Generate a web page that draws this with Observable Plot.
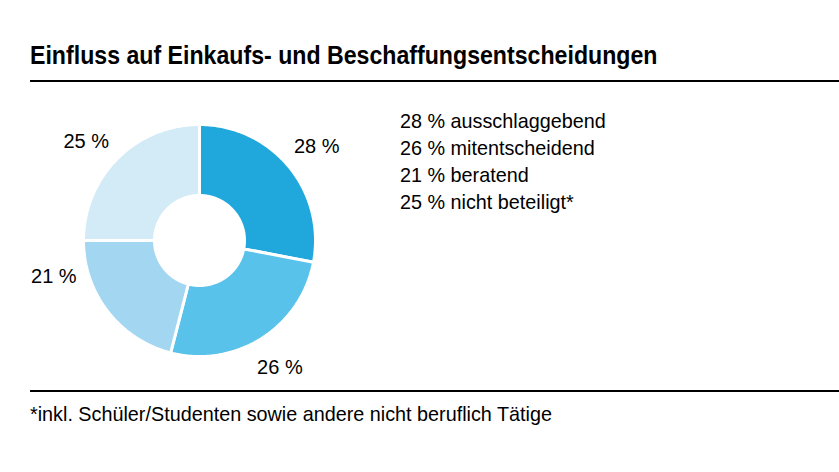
<!DOCTYPE html>
<html><head><meta charset="utf-8">
<script src="https://cdn.jsdelivr.net/npm/d3@7"></script>
<script src="https://cdn.jsdelivr.net/npm/@observablehq/plot@0.6"></script>
<style>
body{margin:0;background:#fff;width:839px;height:472px;position:relative;overflow:hidden;font-family:"Liberation Sans",Arial,sans-serif;color:#000}
#title{position:absolute;left:30px;top:40px;font-weight:bold;font-size:26px;font-family:"Liberation Sans",Arial,sans-serif;white-space:nowrap;transform:scaleX(0.89);transform-origin:left top}
.rule{position:absolute;left:30px;right:0;height:2px;background:#000}
#chart{position:absolute;left:0;top:82px}
#legend{position:absolute;left:400px;top:108px;font-size:19.8px;line-height:27px;white-space:nowrap}
#note{position:absolute;left:30px;top:403px;font-size:19.8px;white-space:nowrap;transform:scaleX(1.0);transform-origin:left top}
</style></head>
<body>
<div id="title">Einfluss auf Einkaufs- und Beschaffungsentscheidungen</div>
<div class="rule" style="top:80px"></div>
<div id="chart"></div>
<div id="legend"></div>
<div class="rule" style="top:390px"></div>
<div id="note">*inkl. Schüler/Studenten sowie andere nicht beruflich Tätige</div>
<script>
// ---- data ----
const categories = ["ausschlaggebend", "mitentscheidend", "beratend", "nicht beteiligt*"];
const values = [28, 26, 21, 25];
const colors = ["#20a8dc", "#58c2ea", "#a3d6f1", "#d3eaf7"];

// ---- layout ----
const W = 380, H = 308, cx = 199, cy = 158, R = 116;
const inner = 45 / 116;
const labelRadius = 150 / 116;
const labelAngleShift = [1, 0, 24, -4]; // degrees, manual label placement tweaks

const total = d3.sum(values);
const pts = [];
const labels = [];
let acc = 0;
values.forEach((v, i) => {
  const a0 = acc / total * 2 * Math.PI;
  acc += v;
  const a1 = acc / total * 2 * Math.PI;
  const n = Math.max(2, Math.ceil((a1 - a0) / (Math.PI / 180)));
  const ring = [];
  for (let k = 0; k <= n; k++) { const a = a0 + (a1 - a0) * k / n; ring.push([Math.sin(a), Math.cos(a)]); }
  for (let k = n; k >= 0; k--) { const a = a0 + (a1 - a0) * k / n; ring.push([inner * Math.sin(a), inner * Math.cos(a)]); }
  ring.push(ring[0]);
  ring.forEach(([x, y]) => pts.push({cat: categories[i], x, y}));
  const am = (a0 + a1) / 2 + labelAngleShift[i] * Math.PI / 180;
  labels.push({x: labelRadius * Math.sin(am), y: labelRadius * Math.cos(am), text: `${values[i]} %`});
});

const plot = Plot.plot({
  width: W, height: H,
  margin: 0,
  x: {domain: [-cx / R, (W - cx) / R], axis: null},
  y: {domain: [-(H - cy) / R, cy / R], axis: null},
  color: {domain: categories, range: colors},
  style: {fontFamily: '"Liberation Sans", Arial, sans-serif', background: "transparent", overflow: "visible"},
  marks: [
    Plot.line(pts, {x: "x", y: "y", z: "cat", fill: "cat", stroke: "white", strokeWidth: 3, curve: "linear", strokeLinejoin: "miter"}),
    Plot.text(labels, {x: "x", y: "y", text: "text", fontSize: 20, fill: "black", textAnchor: "middle", lineAnchor: "middle"})
  ]
});
document.getElementById("chart").append(plot);

document.getElementById("legend").innerHTML = categories.map((c, i) => `<div>${values[i]} % ${c}</div>`).join("");
</script>
</body></html>
